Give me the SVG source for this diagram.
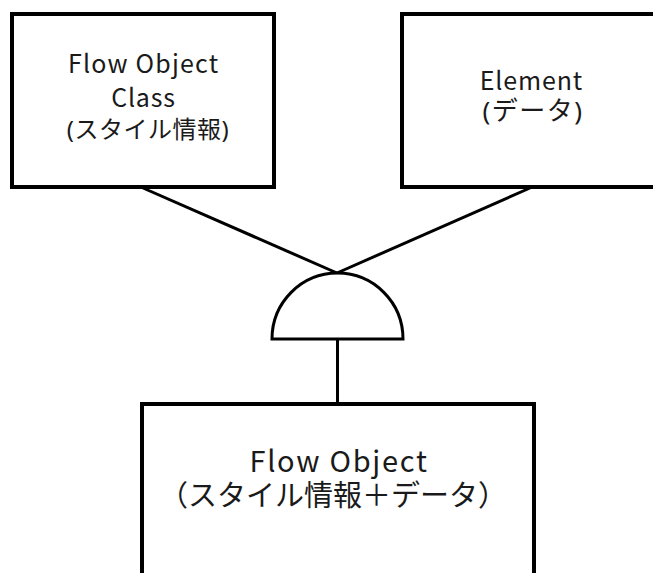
<svg xmlns="http://www.w3.org/2000/svg" width="653" height="573" viewBox="0 0 653 573">
<style>
.box{fill:#fff;stroke:#000;stroke-width:4}
.ln{stroke:#000;stroke-width:3;fill:none}
.t{font-family:"Noto Sans CJK JP","Noto Sans",sans-serif;fill:#1a1a1a;text-anchor:middle}
.p{font-family:"Noto Sans",sans-serif}
</style>
<rect width="653" height="573" fill="#fff"/>
<g id="connectors">
<line class="ln" x1="143" y1="188" x2="337" y2="273"/>
<line class="ln" x1="530" y1="188" x2="337" y2="273"/>
<line class="ln" x1="337.5" y1="339" x2="337.5" y2="404"/>
</g>
<g id="gate">
<path class="ln" fill="#fff" d="M272,339 A65.5,66 0 0 1 403,339 Z"/>
</g>
<g id="flowObjectClass">
<rect class="box" x="12" y="14" width="262" height="173"/>
<text class="t" font-size="25" x="143.6" y="73" letter-spacing="1.2">Flow Object</text>
<text class="t" font-size="25" x="143.4" y="107" letter-spacing="0.8">Class</text>
<text class="t" font-size="24" x="148" y="138" letter-spacing="0.5"><tspan class="p">(</tspan>スタイル情報<tspan class="p">)</tspan></text>
</g>
<g id="element">
<rect class="box" x="402" y="14" width="262" height="173"/>
<text class="t" font-size="25" x="531.4" y="90" letter-spacing="0.85">Element</text>
<text class="t" font-size="26" x="533" y="120" letter-spacing="1.5"><tspan class="p">(</tspan>データ<tspan class="p">)</tspan></text>
</g>
<g id="flowObject">
<rect class="box" x="142" y="404" width="392" height="200"/>
<text class="t" font-size="29" x="339" y="472" letter-spacing="1.7">Flow Object</text>
<text class="t" font-size="29" x="333" y="506">（スタイル情報＋データ）</text>
</g>
</svg>
